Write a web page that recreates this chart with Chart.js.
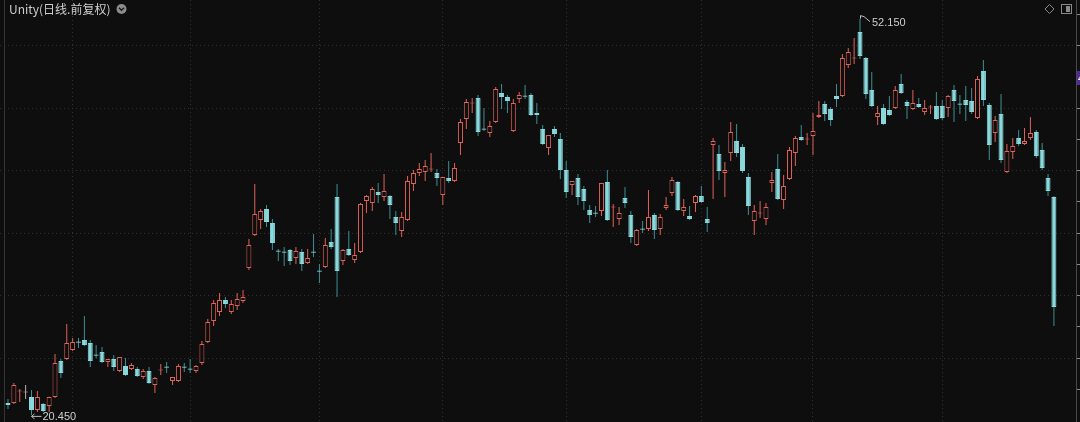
<!DOCTYPE html>
<html>
<head>
<meta charset="utf-8">
<title>Unity K线</title>
<script src="https://cdn.jsdelivr.net/npm/chart.js@4.4.1/dist/chart.umd.min.js"></script>
<style>
    html, body { margin: 0; padding: 0; background: #0e0e0e; }
    #wrap { position: relative; width: 1080px; height: 422px; }
</style>
</head>
<body>
<div id="wrap"><canvas id="kline"></canvas></div>
<script>
// Daily candles (price units)
const opens = [
    21.40, 21.40, 22.36, 22.28, 21.88, 20.84, 21.32, 21.16, 21.88, 24.76,
    24.92, 25.64, 26.28, 26.44, 26.20, 25.24, 25.48, 24.68, 24.92, 23.96,
    24.36, 24.12, 24.12, 23.48, 23.96, 22.84, 24.04, 24.28, 23.16, 23.16,
    24.28, 24.12, 23.96, 24.60, 26.28, 27.96, 28.68, 29.64, 28.68, 29.16,
    29.56, 32.20, 34.84, 36.04, 36.92, 35.80, 33.56, 33.48, 33.64, 33.00,
    33.48, 32.60, 33.48, 31.96, 32.28, 34.28, 37.88, 32.76, 33.72, 32.84,
    33.48, 37.56, 37.40, 38.28, 37.88, 37.96, 36.28, 35.16, 36.04, 38.92,
    39.80, 39.88, 40.12, 39.80, 38.04, 39.40, 39.16, 42.20, 44.12, 45.40,
    45.80, 43.32, 43.00, 43.88, 46.20, 45.88, 43.16, 45.72, 45.96, 46.04,
    44.60, 43.32, 41.80, 43.32, 42.52, 40.04, 38.84, 39.40, 38.52, 36.84,
    36.60, 36.76, 39.08, 37.08, 36.12, 37.80, 36.44, 34.04, 35.32, 35.32,
    36.44, 35.32, 37.00, 38.20, 39.08, 36.76, 36.36, 37.40, 37.96, 36.12,
    42.04, 41.32, 39.80, 41.40, 42.36, 41.88, 39.48, 35.96, 36.60, 36.12,
    39.00, 40.12, 37.64, 39.32, 41.40, 42.68, 42.52, 42.76, 44.28, 45.32,
    44.92, 45.96, 45.96, 48.44, 49.00, 51.08, 49.00, 46.44, 44.28, 45.00,
    44.84, 45.00, 46.92, 45.48, 44.92, 45.32, 44.68, 45.08, 45.16, 45.16,
    45.00, 46.44, 45.32, 45.64, 45.56, 44.20, 47.96, 45.24, 43.00, 44.52,
    39.88, 41.48, 42.60, 42.12, 42.60, 43.08, 41.64, 39.40, 37.88
];
const highs = [
    21.72, 23.00, 22.52, 22.84, 22.44, 22.36, 21.40, 21.90, 25.32, 24.92,
    27.72, 26.60, 26.60, 28.36, 26.44, 26.04, 25.88, 24.92, 25.24, 25.08,
    25.00, 24.60, 24.28, 24.12, 24.28, 23.48, 24.52, 24.68, 23.48, 24.52,
    24.60, 24.92, 24.44, 26.36, 28.12, 29.64, 30.20, 29.88, 29.64, 30.20,
    30.44, 34.52, 38.92, 36.92, 37.24, 36.12, 33.72, 33.88, 33.72, 33.88,
    33.72, 33.72, 34.92, 32.52, 34.60, 35.32, 38.92, 33.72, 35.16, 34.20,
    37.40, 38.04, 38.68, 39.00, 39.72, 38.04, 36.76, 36.68, 39.56, 40.04,
    40.60, 40.84, 41.40, 40.12, 39.48, 40.76, 40.60, 44.12, 45.72, 45.80,
    46.04, 45.00, 43.96, 46.68, 46.92, 46.04, 45.72, 46.28, 46.84, 46.20,
    45.40, 43.64, 42.84, 43.56, 43.00, 40.76, 39.16, 39.72, 38.76, 37.24,
    37.16, 39.00, 40.04, 37.32, 37.08, 38.68, 36.76, 35.32, 35.96, 38.44,
    36.60, 36.52, 37.88, 39.48, 39.16, 37.72, 37.16, 38.04, 38.76, 37.08,
    42.60, 42.04, 40.68, 43.88, 43.72, 42.12, 39.80, 37.24, 37.56, 37.40,
    39.88, 41.32, 39.64, 41.88, 42.76, 43.64, 43.00, 44.60, 45.56, 45.56,
    45.08, 46.92, 49.32, 49.80, 50.60, 52.15, 49.08, 47.88, 45.16, 45.32,
    45.96, 46.76, 47.72, 45.64, 46.44, 45.80, 45.64, 45.24, 46.28, 45.64,
    46.04, 46.84, 46.04, 46.76, 46.60, 47.56, 48.84, 45.40, 44.36, 46.12,
    42.12, 42.60, 43.24, 43.40, 44.28, 43.24, 42.20, 39.72, 37.96
];
const lows = [
    20.92, 21.32, 21.48, 21.72, 20.45, 20.68, 20.68, 20.68, 21.80, 23.40,
    24.84, 25.56, 25.80, 25.96, 24.28, 25.00, 24.60, 24.28, 23.96, 23.88,
    23.56, 24.04, 23.48, 23.32, 22.92, 22.20, 23.64, 23.80, 22.84, 23.08,
    23.88, 23.80, 23.80, 24.44, 26.20, 27.56, 28.36, 29.00, 28.52, 28.84,
    29.40, 32.04, 34.76, 35.32, 35.48, 33.64, 32.76, 32.36, 32.44, 32.52,
    31.96, 32.52, 33.08, 31.00, 32.20, 33.72, 29.88, 32.44, 33.16, 32.60,
    33.40, 36.60, 36.76, 37.40, 37.56, 36.12, 34.84, 34.68, 35.96, 38.36,
    39.56, 39.16, 39.88, 38.76, 37.24, 39.00, 39.08, 41.24, 43.32, 44.60,
    42.76, 43.16, 42.68, 43.80, 44.92, 44.60, 43.08, 45.40, 45.72, 44.36,
    43.72, 42.04, 41.24, 42.68, 39.32, 37.80, 38.04, 37.24, 36.84, 35.80,
    36.28, 36.36, 35.96, 35.48, 35.64, 37.00, 34.20, 33.96, 35.00, 35.16,
    34.52, 34.84, 36.84, 37.96, 36.76, 36.36, 36.04, 36.68, 37.40, 35.08,
    37.72, 39.24, 37.88, 40.76, 41.08, 39.80, 36.44, 34.84, 36.20, 35.64,
    38.28, 37.64, 36.92, 39.24, 40.36, 42.36, 42.04, 41.24, 44.20, 43.96,
    43.56, 45.08, 45.88, 48.20, 48.52, 48.92, 45.72, 45.08, 43.64, 43.64,
    44.36, 44.92, 46.12, 44.12, 44.84, 45.00, 44.44, 44.52, 44.04, 44.04,
    44.28, 43.88, 44.52, 43.96, 44.52, 44.12, 45.16, 40.84, 42.28, 40.60,
    39.80, 40.92, 41.96, 42.04, 42.44, 41.00, 40.04, 37.96, 27.56
];
const closes = [
    21.24, 22.84, 22.37, 22.28, 20.84, 21.88, 20.76, 21.88, 24.60, 23.80,
    26.20, 26.28, 26.27, 26.04, 24.76, 25.23, 24.68, 24.92, 24.28, 25.08,
    23.64, 24.44, 23.56, 23.96, 23.00, 23.40, 24.05, 24.27, 23.48, 24.36,
    24.27, 24.11, 24.36, 26.12, 27.88, 29.40, 29.64, 29.32, 29.32, 29.72,
    29.88, 34.04, 36.52, 36.76, 35.88, 34.20, 33.55, 33.47, 32.76, 33.56,
    32.52, 33.00, 33.47, 31.95, 34.04, 33.88, 31.96, 33.64, 33.24, 33.24,
    37.32, 37.96, 38.52, 38.04, 38.36, 37.24, 35.80, 36.28, 39.16, 39.80,
    40.12, 40.36, 40.13, 39.40, 39.48, 39.16, 40.20, 43.88, 45.48, 45.41,
    43.08, 43.31, 43.56, 46.52, 45.88, 45.56, 45.40, 46.04, 45.95, 44.44,
    44.44, 42.12, 42.84, 42.92, 40.04, 38.28, 39.16, 37.88, 37.56, 36.44,
    36.59, 39.00, 36.04, 37.09, 36.60, 37.40, 34.68, 35.24, 35.31, 36.28,
    35.24, 36.28, 37.24, 39.24, 36.84, 37.08, 36.12, 37.96, 37.48, 35.80,
    42.36, 39.96, 40.04, 43.08, 41.40, 39.96, 37.16, 36.76, 36.61, 37.08,
    39.24, 37.72, 38.76, 41.64, 42.60, 42.44, 42.53, 43.16, 44.44, 44.52,
    44.04, 45.72, 49.00, 49.48, 49.01, 49.16, 46.12, 45.16, 44.60, 43.72,
    44.44, 46.44, 46.20, 45.16, 45.40, 45.08, 45.00, 45.09, 44.12, 44.20,
    45.96, 45.56, 45.31, 45.24, 44.68, 47.32, 45.64, 42.04, 44.04, 40.84,
    41.56, 41.96, 42.12, 42.36, 43.00, 41.16, 40.20, 38.36, 29.08
];

// candle index of the first trading day of each month (vertical dotted lines)
const monthStarts = [11, 31, 53, 74, 95, 118, 137, 159];
// right price axis marks; every second one carries a dotted grid line
const priceTicks = [22.5, 25, 27.5, 30, 32.5, 35, 37.5, 40, 42.5, 45, 47.5, 50, 52.5];

const titleText = 'Unity(日线.前复权)';

const UP = '#e0625a';
const DOWN = '#88d8dc';
const DOWN_WICK = '#3f8f92';
const FLAT = '#b4b4b4';
const BG = '#0e0e0e';
const GRID = '#303030';

function candleColor(i) {
    if (closes[i] > opens[i]) return UP;
    if (closes[i] < opens[i]) return DOWN;
    return FLAT;
}

function wickColor(i) {
    const c = candleColor(i);
    return c === DOWN ? DOWN_WICK : c;
}

const idx = opens.map((_, i) => i);

const wickData = idx.map(i => ({ x: i, y: [lows[i], highs[i]] }));
const bodyData = idx.map(i => {
    let lo = Math.min(opens[i], closes[i]);
    let hi = Math.max(opens[i], closes[i]);
    if (hi - lo < 0.09) {
        // doji: give it a one pixel line
        const mid = (hi + lo) / 2;
        lo = mid - 0.045;
        hi = mid + 0.045;
    }
    return { x: i, y: [lo, hi] };
});

// the highest high and lowest low, marked with their price
function extremeIndex(arr, cmp) {
    let best = 0;
    arr.forEach((v, i) => { if (cmp(v, arr[best])) best = i; });
    return best;
}
const hiIdx = extremeIndex(highs, (a, b) => a > b);
const loIdx = extremeIndex(lows, (a, b) => a < b);

const overlay = {
    id: 'overlay',
    afterDraw(chart) {
        const { ctx, scales: { x, y } } = chart;
        ctx.save();

        // left frame line
        ctx.strokeStyle = '#343434';
        ctx.lineWidth = 1;
        ctx.beginPath();
        ctx.moveTo(4.5, 0);
        ctx.lineTo(4.5, 422);
        ctx.stroke();

        // title
        ctx.font = '12px "Noto Sans CJK SC", "Noto Sans", sans-serif';
        ctx.fillStyle = '#cdcdcd';
        ctx.textBaseline = 'middle';
        ctx.textAlign = 'left';
        ctx.fillText(titleText, 9, 9);
        const tw = ctx.measureText(titleText).width;

        // dropdown circle
        const cx = 9 + tw + 11;
        ctx.fillStyle = '#8c8c8c';
        ctx.beginPath();
        ctx.arc(cx, 9, 5, 0, Math.PI * 2);
        ctx.fill();
        ctx.strokeStyle = '#1a1a1a';
        ctx.lineWidth = 1.4;
        ctx.beginPath();
        ctx.moveTo(cx - 2.5, 7.8);
        ctx.lineTo(cx, 10.3);
        ctx.lineTo(cx + 2.5, 7.8);
        ctx.stroke();

        // top right icons
        ctx.strokeStyle = '#8a8a8a';
        ctx.lineWidth = 1;
        ctx.beginPath();
        ctx.moveTo(1049.5, 4.5);
        ctx.lineTo(1054, 9);
        ctx.lineTo(1049.5, 13.5);
        ctx.lineTo(1045, 9);
        ctx.closePath();
        ctx.stroke();
        ctx.strokeRect(1061.5, 4.5, 10, 9);
        ctx.fillStyle = '#8a8a8a';
        ctx.fillRect(1066, 6, 4, 6);

        // high marker
        const hx = x.getPixelForValue(hiIdx);
        const hy = y.getPixelForValue(highs[hiIdx]);
        ctx.strokeStyle = '#bdbdbd';
        ctx.beginPath();
        ctx.moveTo(hx + 0.5, hy);
        ctx.lineTo(hx + 0.5, hy - 3);
        ctx.lineTo(hx + 4, hy - 2);
        ctx.lineTo(hx + 10, hy + 3);
        ctx.stroke();
        ctx.font = '11px "Liberation Sans", Arial, sans-serif';
        ctx.fillStyle = '#cdcdcd';
        ctx.fillText(highs[hiIdx].toFixed(3), hx + 12, hy + 4);

        // low marker
        const lx = x.getPixelForValue(loIdx);
        const ly = y.getPixelForValue(lows[loIdx]) + 1;
        ctx.strokeStyle = '#bdbdbd';
        ctx.beginPath();
        ctx.moveTo(lx, ly + 0.5);
        ctx.lineTo(lx + 10, ly + 0.5);
        ctx.moveTo(lx + 3, ly - 2);
        ctx.lineTo(lx, ly + 0.5);
        ctx.lineTo(lx + 3, ly + 3);
        ctx.stroke();
        ctx.fillText(lows[loIdx].toFixed(3), lx + 11, ly + 1);

        // cut-off price tag at the right edge
        ctx.fillStyle = '#4f2a98';
        ctx.fillRect(1077, 71, 12, 14);
        ctx.fillStyle = '#ffffff';
        ctx.fillText('47.40', 1078, 78.5);

        ctx.restore();
    }
};

document.addEventListener('DOMContentLoaded', function() {
    const canvas = document.getElementById('kline');

    new Chart(canvas, {
        type: 'bar',
        data: {
            datasets: [
                {
                    label: 'wick',
                    data: wickData,
                    backgroundColor: idx.map(wickColor),
                    borderWidth: 0,
                    barThickness: 1,
                    grouped: false,
                    inflateAmount: 0,
                    order: 2
                },
                {
                    label: 'body',
                    data: bodyData,
                    backgroundColor: idx.map(i => candleColor(i) === UP ? BG : candleColor(i)),
                    borderColor: idx.map(candleColor),
                    borderWidth: 1,
                    borderSkipped: false,
                    barThickness: 5,
                    grouped: false,
                    inflateAmount: 0,
                    order: 1
                }
            ]
        },
        options: {
            responsive: true,
            maintainAspectRatio: false,
            animation: false,
            layout: { padding: 0 },
            plugins: {
                legend: { display: false },
                tooltip: { enabled: false }
            },
            scales: {
                x: {
                    type: 'linear',
                    offset: false,
                    bounds: 'data',
                    min: -1.361,
                    max: 181.76,
                    afterBuildTicks: scale => {
                        scale.ticks = monthStarts.map(v => ({ value: v }));
                    },
                    ticks: { display: false },
                    grid: { color: GRID, drawTicks: false, offset: false },
                    border: { display: false, dash: [1, 3] }
                },
                y: {
                    type: 'linear',
                    position: 'right',
                    bounds: 'data',
                    min: 19.88,
                    max: 53.64,
                    afterBuildTicks: scale => {
                        scale.ticks = priceTicks.map(v => ({ value: v }));
                    },
                    ticks: { display: false },
                    grid: {
                        color: ctx => (ctx.tick && ctx.tick.value % 5 === 0) ? GRID : 'rgba(0,0,0,0)',
                        tickColor: '#8a8a8a',
                        tickLength: 4,
                        drawTicks: true
                    },
                    border: { display: true, color: '#4a4a4a', dash: [1, 3] }
                }
            }
        },
        plugins: [overlay]
    });
});
</script>
</body>
</html>
